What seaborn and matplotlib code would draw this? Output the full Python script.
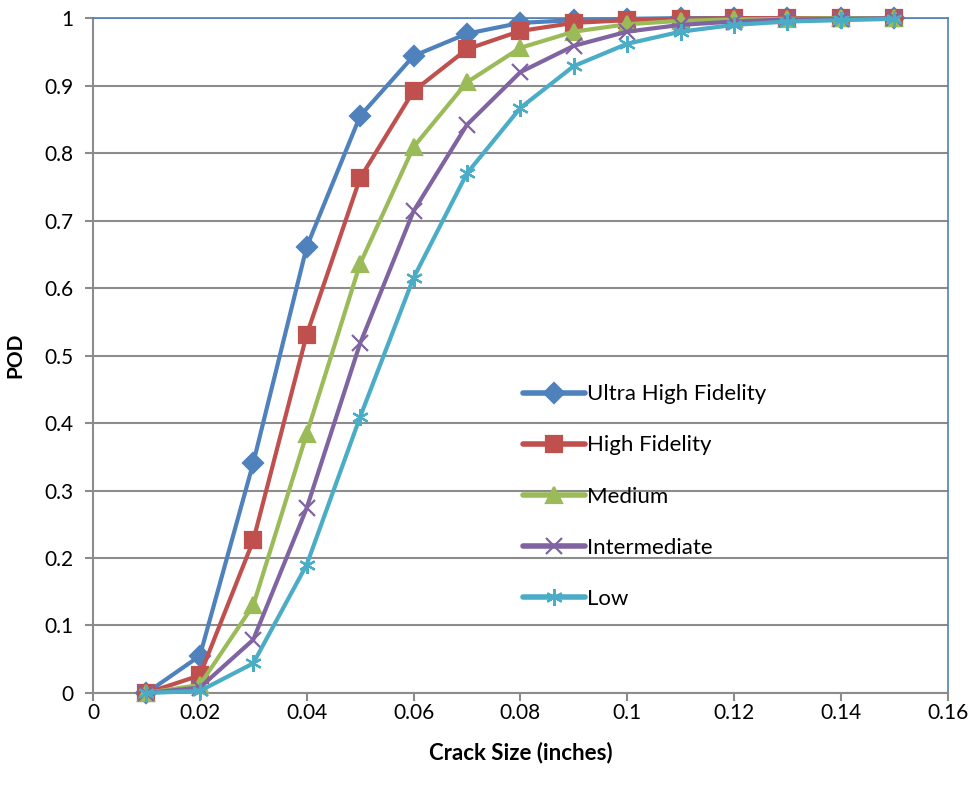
"""
POD curves versus crack size for the five fidelity levels.
"""

import matplotlib
matplotlib.use('Agg')
import matplotlib.pyplot as plt
from matplotlib.ticker import FormatStrFormatter, MultipleLocator
import seaborn as sns
import pandas as pd

# data
crack_size = [0.01, 0.02, 0.03, 0.04, 0.05, 0.06, 0.07, 0.08,
              0.09, 0.10, 0.11, 0.12, 0.13, 0.14, 0.15]
ultra_high = [0.0, 0.055, 0.341, 0.661, 0.855, 0.944, 0.977, 0.993,
              0.997, 0.999, 1.0, 1.0, 1.0, 1.0, 1.0]
high = [0.0, 0.026, 0.226, 0.531, 0.763, 0.892, 0.954, 0.981,
        0.993, 0.997, 0.999, 1.0, 1.0, 1.0, 1.0]
medium = [0.0, 0.012, 0.13, 0.384, 0.636, 0.809, 0.905, 0.956,
          0.98, 0.991, 0.996, 0.998, 0.999, 1.0, 1.0]
intermediate = [0.0, 0.008, 0.079, 0.274, 0.518, 0.714, 0.842, 0.92,
                0.959, 0.98, 0.99, 0.995, 0.998, 0.999, 1.0]
low = [0.0, 0.003, 0.044, 0.19, 0.409, 0.615, 0.77, 0.867,
       0.929, 0.962, 0.98, 0.99, 0.995, 0.997, 0.999]

series_names = ['Ultra High Fidelity', 'High Fidelity', 'Medium', 'Intermediate', 'Low']
series_values = [ultra_high, high, medium, intermediate, low]


def podPlot():
    sns.set_style('white')
    plt.rcParams['font.family'] = ['Lato', 'DejaVu Sans']

    colors = ['#4F81BD', '#C0504D', '#9BBB59', '#8064A2', '#4BACC6']
    markers = ['D', 's', '^', 'x', (6, 2, 0)]
    msizes = [10, 12, 11, 11, 12]

    f = plt.figure(figsize=(9.72, 7.89), dpi=100)
    ax = f.add_axes([0.0957, 0.1217, 0.8793, 0.8553])

    for name, vals, c, m, ms in zip(series_names, series_values, colors, markers, msizes):
        df = pd.DataFrame({'size': crack_size, 'pod': vals})
        sns.lineplot(x='size', y='pod', data=df, ax=ax, color=c, linewidth=3.0,
                     marker=m, markersize=ms, markeredgecolor=c, markeredgewidth=1.6,
                     label=name, clip_on=False, zorder=3)

    ax.set_xlim(0, 0.16)
    ax.set_ylim(0, 1)
    ax.xaxis.set_major_locator(MultipleLocator(0.02))
    ax.yaxis.set_major_locator(MultipleLocator(0.1))
    ax.xaxis.set_major_formatter(FormatStrFormatter('%g'))
    ax.yaxis.set_major_formatter(FormatStrFormatter('%g'))
    ax.yaxis.grid(True, color='#8c8c8c', linewidth=1.5)
    ax.set_axisbelow(True)

    for side in ['left', 'bottom']:
        ax.spines[side].set_color('#8c8c8c')
        ax.spines[side].set_linewidth(1.5)
    for side in ['top', 'right']:
        ax.spines[side].set_color('#4F81BD')
        ax.spines[side].set_linewidth(1.2)

    ax.tick_params(axis='both', labelsize=15, colors='#8c8c8c', labelcolor='black',
                   direction='out', length=6, width=1.5, bottom=True, left=True)
    ax.tick_params(axis='x', pad=1)
    ax.tick_params(axis='y', pad=8)

    ax.set_xlabel('Crack Size (inches)', fontsize=16, fontweight='bold', color='black', labelpad=14)
    ax.set_ylabel('POD', fontsize=15, fontweight='bold', color='black', labelpad=14)

    leg = ax.legend(loc='upper left', bbox_to_anchor=(0.48, 0.487), frameon=False,
                    fontsize=16, handlelength=2.8, handletextpad=0.05, labelspacing=1.4)
    for line in leg.get_lines():
        line.set_linewidth(4)
    for t in leg.get_texts():
        t.set_color('black')

    f.savefig('out.png', dpi=100)


if __name__ == '__main__':
    podPlot()
